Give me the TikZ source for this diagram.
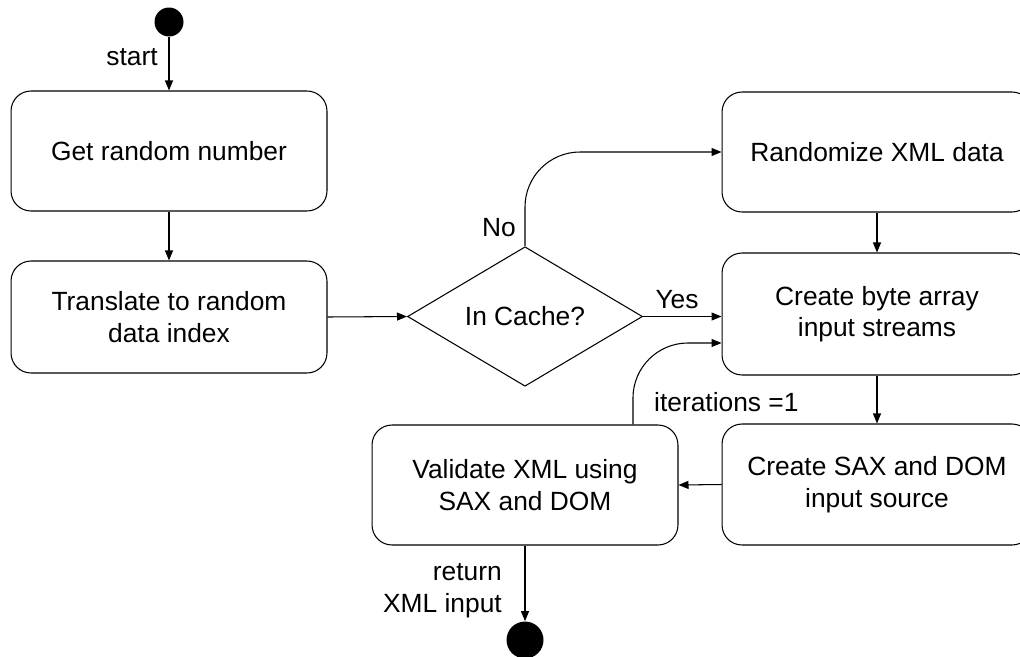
\documentclass[tikz,border=0pt]{standalone}
\usepackage{fontspec}
\setmainfont{Liberation Sans}
\usetikzlibrary{shapes.geometric, arrows.meta}
\tikzstyle{state} = [rectangle, rounded corners=0.4cm, minimum width=6.32cm, minimum height=2.4cm, text centered, align=center, draw=black, line width=0.6pt]
\tikzstyle{decision} = [diamond, minimum width=4.7cm, minimum height=2.54cm, inner sep=0pt, text centered, draw=black, line width=0.6pt]
\tikzstyle{terminal} = [circle, fill=black, inner sep=0pt]
\tikzstyle{arrow} = [line width=0.6pt,-{Triangle[length=2mm,width=1.6mm]}]

\begin{document}
\begin{tikzpicture}[x=0.02cm, y=-0.02cm, font=\fontsize{15}{18}\selectfont]

    \useasboundingbox (0,0) rectangle (1020,656);
    \clip (0,0) rectangle (1020,656);

    \node (start) [terminal, minimum size=0.58cm] at (169,22) {};
    \node (getrand) [state] at (169,151) {Get random number};
    \node (translate) [state, minimum height=2.24cm] at (169,317) {Translate to random\\data index};
    \node (cache) [decision] at (525,316.5) {In Cache?};
    \node (rand) [state, minimum width=6.2cm] at (877,152) {Randomize XML data};
    \node (bytes) [state, minimum width=6.2cm, minimum height=2.44cm] at (877,314) {Create byte array\\input streams};
    \node (sax) [state, minimum width=6.2cm, minimum height=2.42cm] at (877,484.5) {Create SAX and DOM\\input source};
    \node (validate) [state, minimum width=6.12cm] at (525,485) {Validate XML using\\SAX and DOM};
    \node (finish) [terminal, minimum size=0.74cm] at (525,640) {};

    \node (startlbl) at (132,57) {start};
    \node (nolbl) at (499,228) {No};
    \node (yeslbl) at (677,300) {Yes};
    \node (iterlbl) [anchor=west] at (648,402) {iterations =1};
    \node (retlbl) [anchor=east, align=right] at (508,591) {return\\XML input};

    \draw [arrow] (start) -- (getrand);
    \draw [arrow] (getrand) -- (translate);
    \draw [arrow] (translate.east) -- (cache.west);
    \draw [arrow, rounded corners=1.1cm] (cache.north) |- (rand.west);
    \draw [arrow] (cache.east) -- (cache.east -| bytes.west);
    \draw [arrow] (rand) -- (bytes);
    \draw [arrow] (bytes) -- (sax);
    \draw [arrow] (sax.west) -- (validate.east);
    \draw [arrow, rounded corners=1.1cm] ([xshift=2.16cm]validate.north) |- ([yshift=-0.58cm]bytes.west);
    \draw [arrow] (validate.south) -- (finish);

\end{tikzpicture}
\end{document}
